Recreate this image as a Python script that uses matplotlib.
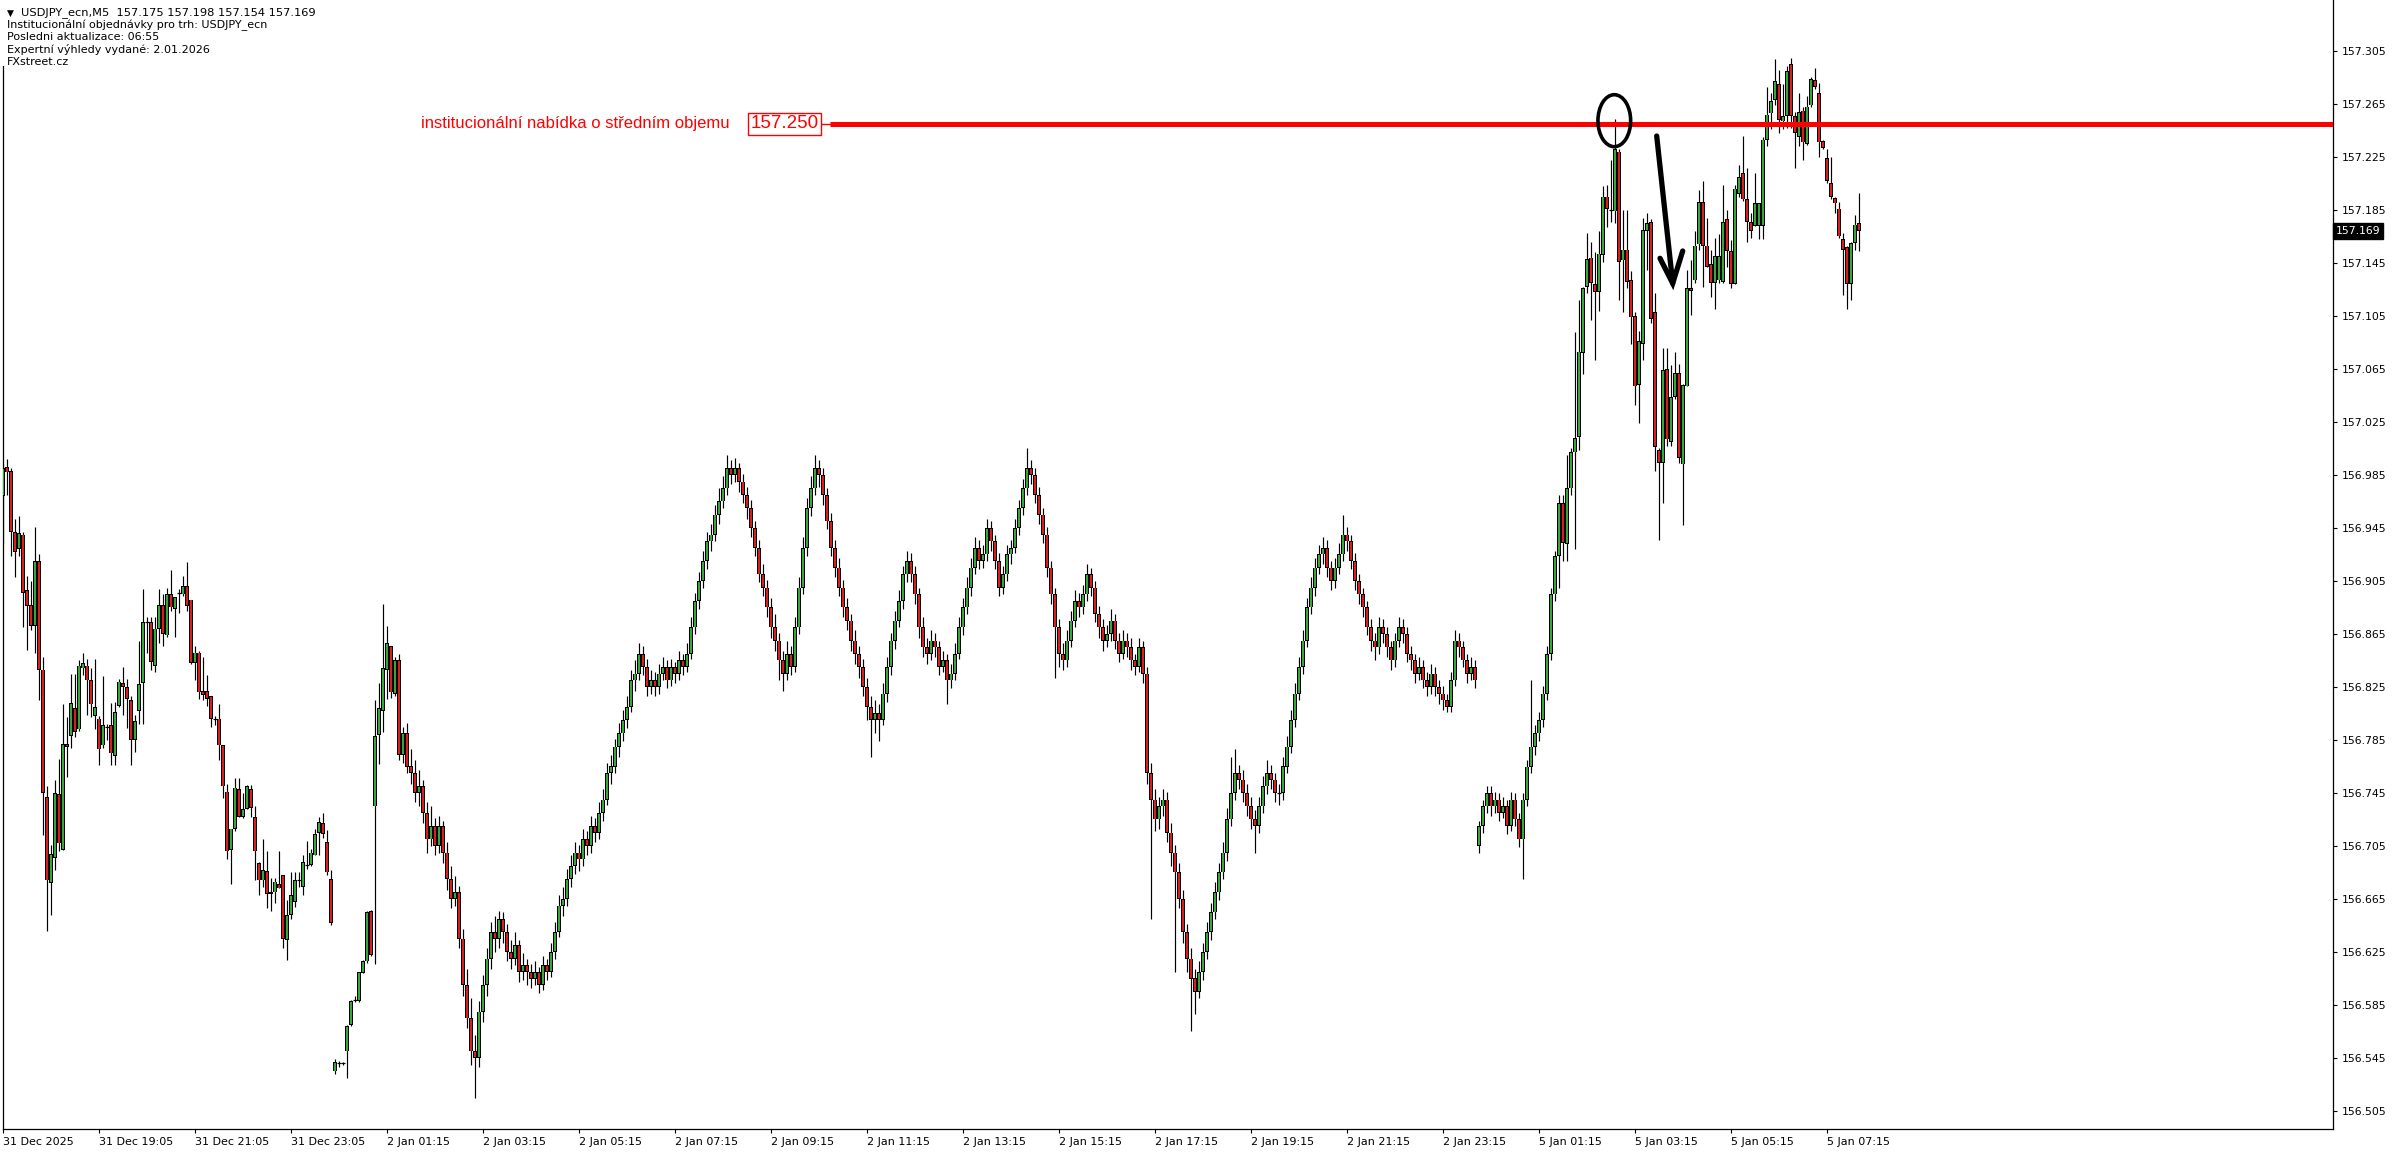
import numpy as np
import matplotlib
matplotlib.use("Agg")
import matplotlib.pyplot as plt
from matplotlib.patches import Ellipse, Rectangle

# ---------------- data ----------------
header_lines = [
    "USDJPY_ecn,M5  157.175 157.198 157.154 157.169",
    "Institucionální objednávky pro trh: USDJPY_ecn",
    "Posledni aktualizace: 06:55",
    "Expertní výhledy vydané: 2.01.2026",
    "FXstreet.cz",
]
x_tick_labels = ["31 Dec 2025", "31 Dec 19:05", "31 Dec 21:05", "31 Dec 23:05",
                 "2 Jan 01:15", "2 Jan 03:15", "2 Jan 05:15", "2 Jan 07:15",
                 "2 Jan 09:15", "2 Jan 11:15", "2 Jan 13:15", "2 Jan 15:15",
                 "2 Jan 17:15", "2 Jan 19:15", "2 Jan 21:15", "2 Jan 23:15",
                 "5 Jan 01:15", "5 Jan 03:15", "5 Jan 05:15", "5 Jan 07:15"]
bars_per_label = 24
y_tick_values = [156.505, 156.545, 156.585, 156.625, 156.665, 156.705, 156.745,
                 156.785, 156.825, 156.865, 156.905, 156.945, 156.985, 157.025,
                 157.065, 157.105, 157.145, 157.185, 157.225, 157.265, 157.305]
level_price = 157.250
level_text = "institucionální nabídka o středním objemu"
last_price = 157.169

opens = [
    # 0-99
    156.969, 156.991, 156.988, 156.942, 156.929, 156.940, 156.898, 156.887, 156.871, 156.920,
    156.838, 156.742, 156.677, 156.696, 156.744, 156.702, 156.782, 156.788, 156.809, 156.793,
    156.839, 156.841, 156.830, 156.803, 156.801, 156.781, 156.795, 156.796, 156.773, 156.811,
    156.828, 156.825, 156.815, 156.785, 156.807, 156.828, 156.874, 156.874, 156.841, 156.869,
    156.887, 156.864, 156.895, 156.884, 156.896, 156.895, 156.901, 156.891, 156.843, 156.851,
    156.822, 156.822, 156.818, 156.801, 156.801, 156.781, 156.746, 156.702, 156.718, 156.748,
    156.727, 156.733, 156.748, 156.727, 156.692, 156.679, 156.686, 156.670, 156.670, 156.676,
    156.683, 156.634, 156.653, 156.663, 156.679, 156.674, 156.691, 156.691, 156.698, 156.715,
    156.722, 156.708, 156.680, 156.535, 156.541, 156.541, 156.550, 156.570, 156.589, 156.588,
    156.609, 156.618, 156.656, 156.735, 156.789, 156.807, 156.838, 156.856, 156.820, 156.845,
    # 100-199
    156.774, 156.790, 156.765, 156.760, 156.745, 156.750, 156.730, 156.710, 156.720, 156.705,
    156.720, 156.700, 156.680, 156.665, 156.670, 156.635, 156.600, 156.575, 156.550, 156.545,
    156.580, 156.600, 156.620, 156.640, 156.635, 156.650, 156.640, 156.625, 156.620, 156.630,
    156.610, 156.615, 156.610, 156.605, 156.610, 156.600, 156.615, 156.610, 156.625, 156.640,
    156.660, 156.665, 156.680, 156.690, 156.700, 156.695, 156.710, 156.705, 156.720, 156.715,
    156.730, 156.740, 156.760, 156.765, 156.780, 156.790, 156.800, 156.810, 156.830, 156.835,
    156.850, 156.840, 156.825, 156.830, 156.825, 156.835, 156.840, 156.830, 156.840, 156.835,
    156.845, 156.840, 156.850, 156.870, 156.890, 156.905, 156.920, 156.935, 156.940, 156.955,
    156.965, 156.975, 156.990, 156.985, 156.990, 156.980, 156.970, 156.960, 156.945, 156.930,
    156.910, 156.900, 156.885, 156.870, 156.860, 156.845, 156.835, 156.850, 156.840, 156.870,
    # 200-299
    156.900, 156.930, 156.960, 156.975, 156.990, 156.985, 156.970, 156.950, 156.930, 156.915,
    156.900, 156.885, 156.875, 156.860, 156.850, 156.840, 156.825, 156.810, 156.800, 156.805,
    156.800, 156.820, 156.840, 156.860, 156.875, 156.890, 156.910, 156.920, 156.910, 156.895,
    156.870, 156.855, 156.850, 156.860, 156.855, 156.840, 156.845, 156.830, 156.835, 156.850,
    156.870, 156.885, 156.900, 156.915, 156.930, 156.920, 156.925, 156.945, 156.935, 156.920,
    156.900, 156.910, 156.925, 156.930, 156.945, 156.960, 156.975, 156.990, 156.985, 156.970,
    156.955, 156.940, 156.915, 156.895, 156.870, 156.850, 156.845, 156.860, 156.875, 156.890,
    156.885, 156.895, 156.910, 156.900, 156.880, 156.870, 156.860, 156.865, 156.875, 156.860,
    156.850, 156.860, 156.855, 156.845, 156.840, 156.855, 156.835, 156.760, 156.740, 156.725,
    156.735, 156.740, 156.715, 156.700, 156.685, 156.665, 156.640, 156.620, 156.605, 156.595,
    # 300-388
    156.610, 156.625, 156.640, 156.655, 156.670, 156.685, 156.700, 156.725, 156.745, 156.760,
    156.755, 156.745, 156.735, 156.725, 156.720, 156.735, 156.750, 156.760, 156.755, 156.745,
    156.745, 156.765, 156.780, 156.800, 156.820, 156.840, 156.860, 156.885, 156.900, 156.915,
    156.925, 156.930, 156.915, 156.905, 156.915, 156.925, 156.940, 156.935, 156.920, 156.905,
    156.895, 156.885, 156.870, 156.860, 156.855, 156.870, 156.865, 156.855, 156.845, 156.860,
    156.870, 156.865, 156.850, 156.845, 156.835, 156.840, 156.830, 156.825, 156.835, 156.825,
    156.820, 156.815, 156.810, 156.830, 156.860, 156.855, 156.845, 156.835, 156.840, 156.705,
    156.720, 156.735, 156.745, 156.735, 156.740, 156.730, 156.735, 156.720, 156.740, 156.725,
    156.710, 156.740, 156.765, 156.780, 156.790, 156.800, 156.820, 156.850, 156.895,
    # 389-464
    156.924, 156.964, 156.933, 156.975, 157.002, 157.014, 157.077, 157.127, 157.149, 157.129,
    157.123, 157.151, 157.195, 157.185, 157.184, 157.229, 157.147, 157.155, 157.132, 157.105,
    157.053, 157.084, 157.169, 157.176, 157.108, 157.004, 156.994, 157.065, 157.010, 157.044,
    157.062, 156.993, 157.052, 157.126, 157.132, 157.159, 157.191, 157.158, 157.144, 157.130,
    157.132, 157.131, 157.178, 157.154, 157.129, 157.197, 157.213, 157.193, 157.176, 157.173,
    157.173, 157.173, 157.238, 157.258, 157.268, 157.280, 157.252, 157.256, 157.295, 157.256,
    157.240, 157.260, 157.235, 157.264, 157.283, 157.273, 157.237, 157.224, 157.205, 157.194,
    157.186, 157.163, 157.157, 157.129, 157.160, 157.175,
]
highs = [
    # 0-99
    156.993, 156.997, 156.990, 156.952, 156.954, 156.942, 156.909, 156.905, 156.946, 156.925,
    156.848, 156.750, 156.706, 156.755, 156.771, 156.812, 156.802, 156.835, 156.835, 156.845,
    156.851, 156.846, 156.839, 156.846, 156.803, 156.833, 156.797, 156.813, 156.814, 156.831,
    156.840, 156.831, 156.818, 156.804, 156.860, 156.899, 156.878, 156.878, 156.878, 156.899,
    156.895, 156.900, 156.913, 156.893, 156.899, 156.909, 156.919, 156.891, 156.856, 156.852,
    156.848, 156.834, 156.818, 156.803, 156.812, 156.781, 156.752, 156.718, 156.756, 156.756,
    156.745, 156.751, 156.751, 156.735, 156.693, 156.710, 156.701, 156.681, 156.681, 156.701,
    156.683, 156.664, 156.685, 156.685, 156.685, 156.698, 156.709, 156.703, 156.718, 156.727,
    156.730, 156.717, 156.687, 156.544, 156.543, 156.542, 156.570, 156.589, 156.592, 156.610,
    156.619, 156.656, 156.657, 156.815, 156.828, 156.888, 156.871, 156.856, 156.848, 156.850,
    # 100-199
    156.795, 156.798, 156.778, 156.770, 156.762, 156.755, 156.738, 156.735, 156.726, 156.728,
    156.724, 156.708, 156.690, 156.682, 156.675, 156.642, 156.612, 156.590, 156.562, 156.588,
    156.608, 156.628, 156.648, 156.652, 156.656, 156.655, 156.646, 156.634, 156.640, 156.634,
    156.624, 156.620, 156.616, 156.618, 156.614, 156.622, 156.620, 156.632, 156.648, 156.668,
    156.674, 156.688, 156.698, 156.708, 156.706, 156.718, 156.716, 156.728, 156.726, 156.738,
    156.748, 156.768, 156.774, 156.786, 156.798, 156.808, 156.818, 156.838, 156.845, 156.858,
    156.856, 156.846, 156.838, 156.836, 156.842, 156.848, 156.845, 156.846, 156.844, 156.852,
    156.850, 156.858, 156.878, 156.896, 156.912, 156.928, 156.942, 156.948, 156.962, 156.975,
    156.984, 157.000, 156.996, 156.998, 156.994, 156.986, 156.976, 156.966, 156.950, 156.936,
    156.918, 156.906, 156.892, 156.880, 156.866, 156.852, 156.860, 156.856, 156.878, 156.908,
    # 200-299
    156.938, 156.968, 156.984, 157.000, 156.996, 156.990, 156.975, 156.956, 156.936, 156.922,
    156.906, 156.892, 156.880, 156.868, 156.856, 156.846, 156.832, 156.818, 156.815, 156.812,
    156.828, 156.848, 156.866, 156.882, 156.898, 156.916, 156.928, 156.926, 156.916, 156.900,
    156.878, 156.862, 156.868, 156.866, 156.860, 156.852, 156.850, 156.842, 156.858, 156.878,
    156.892, 156.908, 156.922, 156.938, 156.936, 156.932, 156.952, 156.950, 156.940, 156.926,
    156.916, 156.932, 156.936, 156.952, 156.966, 156.982, 157.005, 156.996, 156.990, 156.976,
    156.960, 156.946, 156.920, 156.900, 156.876, 156.858, 156.868, 156.882, 156.898, 156.896,
    156.902, 156.918, 156.915, 156.905, 156.886, 156.876, 156.872, 156.884, 156.880, 156.866,
    156.868, 156.866, 156.862, 156.850, 156.862, 156.860, 156.840, 156.768, 156.748, 156.742,
    156.748, 156.746, 156.722, 156.706, 156.692, 156.672, 156.646, 156.628, 156.612, 156.618,
    # 300-388
    156.632, 156.648, 156.662, 156.678, 156.692, 156.708, 156.734, 156.772, 156.778, 156.766,
    156.762, 156.752, 156.742, 156.732, 156.742, 156.758, 156.770, 156.766, 156.760, 156.752,
    156.772, 156.788, 156.808, 156.828, 156.848, 156.868, 156.892, 156.908, 156.922, 156.932,
    156.938, 156.936, 156.920, 156.922, 156.934, 156.955, 156.946, 156.940, 156.926, 156.910,
    156.900, 156.890, 156.876, 156.866, 156.878, 156.876, 156.870, 156.860, 156.866, 156.878,
    156.876, 156.870, 156.856, 156.850, 156.848, 156.845, 156.836, 156.842, 156.840, 156.830,
    156.826, 156.820, 156.836, 156.868, 156.866, 156.860, 156.850, 156.848, 156.845, 156.724,
    156.740, 156.750, 156.750, 156.746, 156.745, 156.742, 156.740, 156.746, 156.745, 156.730,
    156.745, 156.770, 156.830, 156.796, 156.806, 156.826, 156.856, 156.900, 156.928,
    # 389-464
    156.970, 156.970, 157.000, 157.005, 157.093, 157.117, 157.127, 157.168, 157.161, 157.153,
    157.169, 157.203, 157.204, 157.223, 157.254, 157.231, 157.185, 157.185, 157.139, 157.108,
    157.094, 157.179, 157.183, 157.178, 157.122, 157.005, 157.081, 157.081, 157.068, 157.078,
    157.069, 157.054, 157.140, 157.147, 157.169, 157.200, 157.207, 157.179, 157.155, 157.164,
    157.167, 157.204, 157.185, 157.162, 157.204, 157.219, 157.241, 157.217, 157.183, 157.213,
    157.190, 157.240, 157.278, 157.273, 157.299, 157.291, 157.280, 157.294, 157.300, 157.259,
    157.273, 157.263, 157.271, 157.285, 157.292, 157.281, 157.238, 157.231, 157.225, 157.195,
    157.191, 157.168, 157.158, 157.161, 157.181, 157.198,
]
lows = [
    # 0-99
    156.934, 156.970, 156.924, 156.908, 156.924, 156.870, 156.853, 156.868, 156.851, 156.815,
    156.713, 156.641, 156.653, 156.687, 156.701, 156.702, 156.757, 156.779, 156.787, 156.792,
    156.834, 156.804, 156.802, 156.793, 156.766, 156.779, 156.785, 156.766, 156.766, 156.810,
    156.804, 156.794, 156.766, 156.776, 156.797, 156.797, 156.851, 156.838, 156.836, 156.858,
    156.856, 156.863, 156.882, 156.863, 156.881, 156.894, 156.882, 156.842, 156.830, 156.816,
    156.815, 156.811, 156.795, 156.796, 156.770, 156.741, 156.695, 156.676, 156.716, 156.727,
    156.726, 156.733, 156.727, 156.679, 156.668, 156.674, 156.658, 156.656, 156.662, 156.673,
    156.628, 156.619, 156.650, 156.659, 156.674, 156.668, 156.688, 156.690, 156.698, 156.698,
    156.711, 156.683, 156.645, 156.533, 156.538, 156.540, 156.530, 156.569, 156.587, 156.587,
    156.609, 156.617, 156.622, 156.616, 156.767, 156.791, 156.816, 156.817, 156.818, 156.770,
    # 100-199
    156.768, 156.760, 156.752, 156.738, 156.735, 156.722, 156.700, 156.705, 156.698, 156.700,
    156.692, 156.672, 156.658, 156.660, 156.628, 156.592, 156.568, 156.540, 156.515, 156.538,
    156.572, 156.592, 156.612, 156.625, 156.628, 156.632, 156.618, 156.612, 156.615, 156.602,
    156.604, 156.600, 156.598, 156.600, 156.594, 156.596, 156.604, 156.606, 156.620, 156.636,
    156.652, 156.660, 156.674, 156.684, 156.686, 156.690, 156.698, 156.700, 156.708, 156.710,
    156.724, 156.736, 156.752, 156.760, 156.772, 156.784, 156.794, 156.806, 156.822, 156.830,
    156.834, 156.818, 156.820, 156.818, 156.820, 156.830, 156.824, 156.826, 156.828, 156.830,
    156.834, 156.836, 156.846, 156.865, 156.884, 156.900, 156.914, 156.928, 156.935, 156.948,
    156.960, 156.970, 156.978, 156.980, 156.972, 156.964, 156.952, 156.938, 156.924, 156.904,
    156.894, 156.878, 156.862, 156.852, 156.830, 156.822, 156.830, 156.834, 156.836, 156.865,
    # 200-299
    156.895, 156.924, 156.954, 156.970, 156.976, 156.962, 156.944, 156.924, 156.908, 156.894,
    156.878, 156.868, 156.852, 156.842, 156.832, 156.818, 156.800, 156.772, 156.790, 156.784,
    156.796, 156.814, 156.834, 156.854, 156.870, 156.884, 156.904, 156.904, 156.888, 156.862,
    156.848, 156.842, 156.845, 156.848, 156.834, 156.836, 156.812, 156.824, 156.830, 156.846,
    156.864, 156.880, 156.894, 156.910, 156.914, 156.915, 156.920, 156.928, 156.914, 156.894,
    156.895, 156.905, 156.918, 156.926, 156.940, 156.955, 156.970, 156.978, 156.964, 156.948,
    156.934, 156.908, 156.888, 156.832, 156.840, 156.838, 156.840, 156.855, 156.870, 156.878,
    156.880, 156.890, 156.894, 156.874, 156.862, 156.852, 156.855, 156.860, 156.854, 156.844,
    156.846, 156.848, 156.838, 156.834, 156.836, 156.828, 156.752, 156.650, 156.716, 156.718,
    156.728, 156.708, 156.690, 156.610, 156.658, 156.632, 156.610, 156.565, 156.578, 156.590,
    # 300-388
    156.604, 156.620, 156.634, 156.650, 156.664, 156.680, 156.694, 156.720, 156.740, 156.748,
    156.738, 156.728, 156.718, 156.700, 156.715, 156.730, 156.744, 156.748, 156.738, 156.736,
    156.740, 156.760, 156.775, 156.795, 156.815, 156.835, 156.855, 156.880, 156.894, 156.910,
    156.918, 156.908, 156.898, 156.900, 156.910, 156.920, 156.928, 156.914, 156.898, 156.888,
    156.878, 156.864, 156.852, 156.845, 156.850, 156.858, 156.848, 156.838, 156.840, 156.855,
    156.858, 156.844, 156.838, 156.828, 156.830, 156.824, 156.818, 156.820, 156.818, 156.812,
    156.808, 156.806, 156.806, 156.826, 156.848, 156.840, 156.828, 156.830, 156.824, 156.700,
    156.715, 156.730, 156.728, 156.730, 156.724, 156.726, 156.714, 156.716, 156.720, 156.704,
    156.680, 156.735, 156.760, 156.774, 156.784, 156.795, 156.815, 156.845, 156.890,
    # 389-464
    156.900, 156.920, 156.920, 156.970, 156.929, 157.004, 157.061, 157.122, 157.102, 157.072,
    157.109, 157.146, 157.172, 157.176, 157.175, 157.117, 157.108, 157.126, 157.084, 157.038,
    157.024, 157.072, 157.140, 157.100, 156.988, 156.936, 156.964, 157.007, 157.007, 157.042,
    156.994, 156.947, 157.052, 157.106, 157.130, 157.155, 157.127, 157.142, 157.119, 157.110,
    157.130, 157.130, 157.142, 157.126, 157.129, 157.195, 157.192, 157.161, 157.164, 157.173,
    157.163, 157.163, 157.233, 157.246, 157.264, 157.243, 157.246, 157.247, 157.247, 157.217,
    157.233, 157.223, 157.234, 157.263, 157.276, 157.225, 157.231, 157.205, 157.193, 157.183,
    157.164, 157.121, 157.110, 157.117, 157.155, 157.154,
]
closes = [
    # 0-99
    156.990, 156.987, 156.942, 156.927, 156.941, 156.896, 156.886, 156.871, 156.920, 156.838,
    156.745, 156.679, 156.699, 156.745, 156.707, 156.782, 156.780, 156.813, 156.791, 156.841,
    156.843, 156.830, 156.812, 156.810, 156.778, 156.796, 156.795, 156.775, 156.806, 156.829,
    156.825, 156.816, 156.785, 156.799, 156.827, 156.874, 156.874, 156.844, 156.869, 156.887,
    156.865, 156.895, 156.885, 156.893, 156.896, 156.901, 156.886, 156.843, 156.851, 156.821,
    156.819, 156.816, 156.801, 156.801, 156.781, 156.750, 156.701, 156.718, 156.749, 156.727,
    156.733, 156.750, 156.734, 156.701, 156.679, 156.687, 156.669, 156.669, 156.678, 156.673,
    156.635, 156.653, 156.668, 156.679, 156.679, 156.693, 156.691, 156.700, 156.714, 156.723,
    156.714, 156.685, 156.647, 156.542, 156.541, 156.541, 156.569, 156.588, 156.589, 156.610,
    156.618, 156.655, 156.623, 156.788, 156.809, 156.839, 156.858, 156.821, 156.845, 156.774,
    # 100-199
    156.790, 156.765, 156.760, 156.745, 156.750, 156.730, 156.710, 156.720, 156.705, 156.720,
    156.700, 156.680, 156.665, 156.670, 156.635, 156.600, 156.575, 156.550, 156.545, 156.580,
    156.600, 156.620, 156.640, 156.635, 156.650, 156.640, 156.625, 156.620, 156.630, 156.610,
    156.615, 156.610, 156.605, 156.610, 156.600, 156.615, 156.610, 156.625, 156.640, 156.660,
    156.665, 156.680, 156.690, 156.700, 156.695, 156.710, 156.705, 156.720, 156.715, 156.730,
    156.740, 156.760, 156.765, 156.780, 156.790, 156.800, 156.810, 156.830, 156.835, 156.850,
    156.840, 156.825, 156.830, 156.825, 156.835, 156.840, 156.830, 156.840, 156.835, 156.845,
    156.840, 156.850, 156.870, 156.890, 156.905, 156.920, 156.935, 156.940, 156.955, 156.965,
    156.975, 156.990, 156.985, 156.990, 156.980, 156.970, 156.960, 156.945, 156.930, 156.910,
    156.900, 156.885, 156.870, 156.860, 156.845, 156.835, 156.850, 156.840, 156.870, 156.900,
    # 200-299
    156.930, 156.960, 156.975, 156.990, 156.985, 156.970, 156.950, 156.930, 156.915, 156.900,
    156.885, 156.875, 156.860, 156.850, 156.840, 156.825, 156.810, 156.800, 156.805, 156.800,
    156.820, 156.840, 156.860, 156.875, 156.890, 156.910, 156.920, 156.910, 156.895, 156.870,
    156.855, 156.850, 156.860, 156.855, 156.840, 156.845, 156.830, 156.835, 156.850, 156.870,
    156.885, 156.900, 156.915, 156.930, 156.920, 156.925, 156.945, 156.935, 156.920, 156.900,
    156.910, 156.925, 156.930, 156.945, 156.960, 156.975, 156.990, 156.985, 156.970, 156.955,
    156.940, 156.915, 156.895, 156.870, 156.850, 156.845, 156.860, 156.875, 156.890, 156.885,
    156.895, 156.910, 156.900, 156.880, 156.870, 156.860, 156.865, 156.875, 156.860, 156.850,
    156.860, 156.855, 156.845, 156.840, 156.855, 156.835, 156.760, 156.740, 156.725, 156.735,
    156.740, 156.715, 156.700, 156.685, 156.665, 156.640, 156.620, 156.605, 156.595, 156.610,
    # 300-388
    156.625, 156.640, 156.655, 156.670, 156.685, 156.700, 156.725, 156.745, 156.760, 156.755,
    156.745, 156.735, 156.725, 156.720, 156.735, 156.750, 156.760, 156.755, 156.745, 156.745,
    156.765, 156.780, 156.800, 156.820, 156.840, 156.860, 156.885, 156.900, 156.915, 156.925,
    156.930, 156.915, 156.905, 156.915, 156.925, 156.940, 156.935, 156.920, 156.905, 156.895,
    156.885, 156.870, 156.860, 156.855, 156.870, 156.865, 156.855, 156.845, 156.860, 156.870,
    156.865, 156.850, 156.845, 156.835, 156.840, 156.830, 156.825, 156.835, 156.825, 156.820,
    156.815, 156.810, 156.830, 156.860, 156.855, 156.845, 156.835, 156.840, 156.830, 156.720,
    156.735, 156.745, 156.735, 156.740, 156.730, 156.735, 156.720, 156.740, 156.725, 156.710,
    156.740, 156.765, 156.780, 156.790, 156.800, 156.820, 156.850, 156.895, 156.924,
    # 389-464
    156.964, 156.934, 156.975, 157.002, 157.013, 157.078, 157.126, 157.148, 157.130, 157.123,
    157.152, 157.195, 157.186, 157.185, 157.231, 157.146, 157.155, 157.131, 157.104, 157.052,
    157.086, 157.170, 157.175, 157.103, 157.006, 156.994, 157.064, 157.012, 157.044, 157.062,
    156.998, 157.053, 157.126, 157.124, 157.158, 157.191, 157.158, 157.142, 157.130, 157.150,
    157.150, 157.176, 157.154, 157.129, 157.201, 157.210, 157.193, 157.176, 157.169, 157.190,
    157.190, 157.238, 157.257, 157.267, 157.282, 157.253, 157.256, 157.290, 157.256, 157.243,
    157.259, 157.236, 157.263, 157.284, 157.278, 157.236, 157.232, 157.207, 157.195, 157.190,
    157.165, 157.155, 157.129, 157.160, 157.174, 157.169,
]

# ---------------- geometry ----------------
W, H = 2396, 1154
fig = plt.figure(figsize=(W / 100, H / 100), dpi=100)
fig.patch.set_facecolor("white")
ax_left, ax_right, ax_top, ax_bottom = 3, 2333, 0, 1129
ax = fig.add_axes([ax_left / W, (H - ax_bottom) / H, (ax_right - ax_left) / W, (ax_bottom - ax_top) / H])
px_per_bar = 4.0
x0 = -(3.33 - ax_left) / px_per_bar
ax.set_xlim(x0, x0 + (ax_right - ax_left) / px_per_bar)
px_per_unit = 1325.0
ref_price, ref_y = 157.305, 51
ax.set_ylim(ref_price - (ax_bottom - ref_y) / px_per_unit, ref_price + (ref_y - ax_top) / px_per_unit)

GREEN = "#3aa53a"
RED = "#d81e1e"

O = np.array(opens, float)
Hh = np.array(highs, float)
L = np.array(lows, float)
C = np.array(closes, float)
idx = np.arange(len(C))
ax.vlines(idx, L, Hh, color="black", lw=0.85, zorder=2)
outer_w, inner_w = 0.92, 0.5
one_px = 1.0 / px_per_unit
lo = np.minimum(O, C)
hi = np.maximum(O, C)
up = C > O
dn = C < O
fl = C == O
for m, col in ((up, GREEN), (dn, RED)):
    hgt = np.maximum(hi - lo, one_px)[m]
    ax.bar(idx[m], hgt, bottom=lo[m], width=outer_w, color="black", linewidth=0, zorder=3)
    ih = np.clip((hi - lo)[m] - 1.4 * one_px, 0, None)
    ax.bar(idx[m], ih, bottom=lo[m] + 0.7 * one_px, width=inner_w, color=col, linewidth=0, zorder=4)
ax.hlines(C[fl], idx[fl] - outer_w / 2, idx[fl] + outer_w / 2, color="black", lw=0.85, zorder=3)

# level line and labels
line_thin_start = (821.7 - 3.33) / px_per_bar
line_thick_start = (830 - 3.33) / px_per_bar
ax.plot([line_thin_start, line_thick_start], [level_price, level_price], color="red", lw=1.0, zorder=6)
ax.plot([line_thick_start, ax.get_xlim()[1]], [level_price, level_price], color="red", lw=3.6,
        solid_capstyle="butt", zorder=6)
box_center = (784.7 - 3.33) / px_per_bar
ax.text(box_center, level_price, f"{level_price:.3f}", color="red", fontsize=13.5,
        family="Liberation Sans", ha="center", va="center", zorder=7,
        bbox=dict(boxstyle="square,pad=0.12", fc="white", ec="red", lw=1.0))
ax.text((730 - 3.33) / px_per_bar, level_price, level_text, color="red", fontsize=12,
        family="Liberation Sans", ha="right", va="center", zorder=7)

# annotation: ellipse + arrow
def px2data(xp, yp):
    return (xp - 3.33) / px_per_bar, ref_price - (yp - ref_y) / px_per_unit

ecx, ecy = px2data(1614.3, 120.7)
ax.add_patch(Ellipse((ecx, ecy), 32.7 / px_per_bar, 52 / px_per_unit, fill=False,
                     ec="black", lw=2.6, zorder=8))
sx, sy = px2data(1656.7, 136)
tx, ty = px2data(1672.7, 283.3)
hlx, hly = px2data(1660, 258.3)
hrx, hry = px2data(1682.7, 251)
ax.plot([sx, tx], [sy, ty], color="black", lw=3.8, solid_capstyle="round", zorder=8)
ax.plot([hlx, tx, hrx], [hly, ty, hry], color="black", lw=3.8, solid_capstyle="round",
        solid_joinstyle="miter", zorder=8)

# axes styling
for s in ("left", "bottom", "right"):
    ax.spines[s].set_color("black")
    ax.spines[s].set_linewidth(0.9)
ax.spines["top"].set_visible(False)
ax.yaxis.tick_right()
ax.set_yticks(y_tick_values)
ax.set_yticklabels([f"{v:.3f}" for v in y_tick_values], fontsize=7.8, family="DejaVu Sans")
ax.tick_params(axis="y", direction="out", length=3, width=0.8, pad=3, colors="black")
xt = np.arange(len(x_tick_labels)) * bars_per_label
ax.set_xticks(xt)
ax.set_xticklabels(x_tick_labels, fontsize=8, family="DejaVu Sans", ha="left")
ax.tick_params(axis="x", direction="out", length=3, width=0.8, pad=3, colors="black")

# current price tag
ax.annotate(f"{last_price:.3f}", xy=(1, last_price), xycoords=("axes fraction", "data"),
            xytext=(2.2, 0), textcoords="offset points", fontsize=7.8, family="DejaVu Sans",
            color="white", va="center", ha="left", annotation_clip=False,
            bbox=dict(boxstyle="square,pad=0.25", fc="black", ec="black"))

# header
fig.add_artist(Rectangle((0, 1 - 66 / H), 330 / W, 66 / H, transform=fig.transFigure,
                         fc="white", ec="none", zorder=10))
fig.text(7 / W, 1 - 13 / H, "▼", fontsize=6.5, family="DejaVu Sans", va="center", ha="left", zorder=11)
for k, line in enumerate(header_lines):
    xpx = 21 if k == 0 else 7
    fs = 8.2 if k == 0 else 8
    fig.text(xpx / W, 1 - (13 + 12.2 * k) / H, line, fontsize=fs, family="DejaVu Sans",
             va="center", ha="left", zorder=11)

fig.savefig("out.png", dpi=100, facecolor="white")
